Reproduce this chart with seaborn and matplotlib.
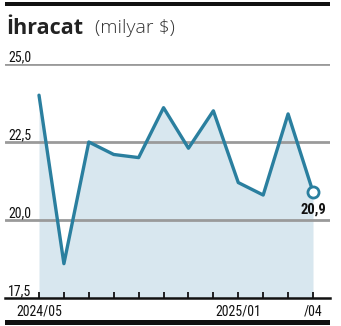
import matplotlib
matplotlib.use("Agg")
import matplotlib.pyplot as plt
import seaborn as sns
import pandas as pd

months = ["2024/05", "2024/06", "2024/07", "2024/08", "2024/09", "2024/10",
          "2024/11", "2024/12", "2025/01", "2025/02", "2025/03", "2025/04"]
exports = [24.0, 18.6, 22.5, 22.1, 22.0, 23.6, 22.3, 23.5, 21.2, 20.8, 23.4, 20.9]
y_ticks = [17.5, 20.0, 22.5, 25.0]
x_labels = {0: "2024/05", 8: "2025/01", 11: "/04"}

sns.set_theme(style="white")
plt.rcParams["font.family"] = ["Roboto Condensed", "DejaVu Sans"]

LINE = "#2a7f9f"
FILL = "#d8e7ef"
GRID = "#9a9a9a"
INK = "#111111"

df = pd.DataFrame({"i": range(len(months)), "v": exports})

W, H = 341, 326
fig = plt.figure(figsize=(W / 100, H / 100), dpi=100)
x0, x1 = 5, 330
ytop, ybot = 64, 298
ax = fig.add_axes([x0 / W, (H - ybot) / H, (x1 - x0) / W, (ybot - ytop) / H])

px = (313 - 39) / 11
ax.set_xlim(-(39 - x0) / px, 11 + (x1 - 313) / px)
ax.set_ylim(17.5, 25.0)

for v in y_ticks[1:]:
    ax.axhline(v, color=GRID, lw=2.0, zorder=1)

ax.fill_between(df["i"], df["v"], 17.5, color=FILL, lw=0, zorder=0)
sns.lineplot(data=df, x="i", y="v", ax=ax, color=LINE, lw=2.4, zorder=3)
ax.plot(df["i"].iloc[-1], df["v"].iloc[-1], "o", ms=8, mfc="white",
        mec=LINE, mew=2.0, zorder=4)
ax.annotate(f"{exports[-1]:.1f}".replace(".", ","), (df["i"].iloc[-1], df["v"].iloc[-1]),
            xytext=(0, -8), textcoords="offset points", ha="center", va="top",
            fontsize=10.5, fontweight="bold", color=INK, zorder=5)

for s in ["top", "right", "left"]:
    ax.spines[s].set_visible(False)
ax.spines["bottom"].set_color(INK)
ax.spines["bottom"].set_linewidth(1.8)

ax.set_xticks(list(range(len(months))))
ax.set_xticklabels([x_labels.get(i, "") for i in range(len(months))], fontsize=10, color=INK)
ax.tick_params(axis="x", direction="in", length=4, width=1.3, color=INK, pad=5, bottom=True)
ax.set_yticks([])
ax.set_xlabel("")
ax.set_ylabel("")
ax.grid(False)

for v in y_ticks:
    ax.text((8 - x0) / (x1 - x0), v, f"{v:.1f}".replace(".", ","),
            transform=ax.get_yaxis_transform(), ha="left", va="bottom",
            fontsize=10, color=INK)

# rules above and below the panel
fig.add_artist(plt.Rectangle((x0 / W, 1 - 6 / H), (x1 - x0) / W, 4 / H,
                             transform=fig.transFigure, color=INK, lw=0))
fig.add_artist(plt.Rectangle((x0 / W, 1 - 325 / H), (x1 - x0) / W, 5 / H,
                             transform=fig.transFigure, color=INK, lw=0))

fig.text(6 / W, 1 - 28 / H, "İhracat", fontsize=15.5, fontweight="bold",
         color="#222222", va="center", ha="left", family=["Open Sans", "DejaVu Sans"])
fig.text(95 / W, 1 - 28 / H, "(milyar $)", fontsize=14, fontweight="light",
         color="#333333", va="center", ha="left", family=["Open Sans", "DejaVu Sans"])

fig.savefig("out.png", dpi=100, facecolor="white")
